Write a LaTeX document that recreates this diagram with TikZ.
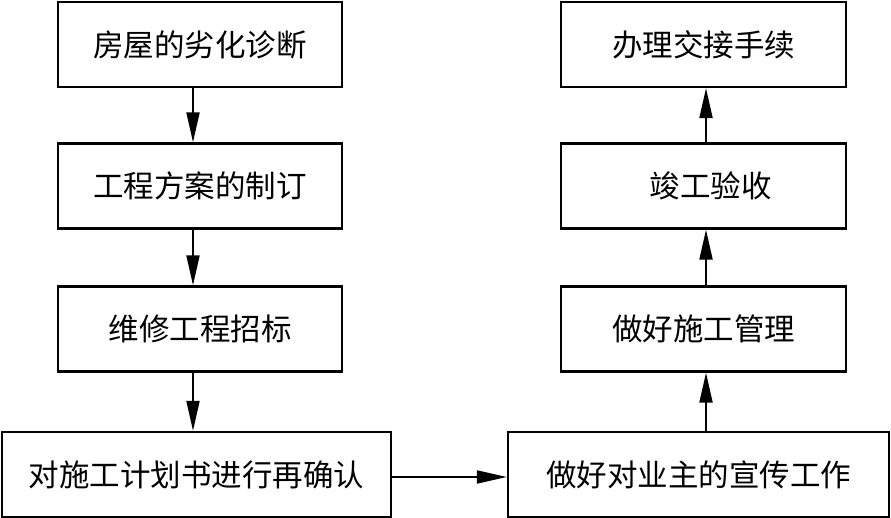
\documentclass[tikz,border=0pt]{standalone}
\usepackage{fontspec}
\newfontfamily\cjk{Noto Sans CJK SC}
\usetikzlibrary{arrows.meta}
\begin{document}
\begin{tikzpicture}[x=1pt,y=1pt,
  box/.style={draw, line width=2.4pt, inner sep=0pt, align=center,
    font=\cjk\fontsize{30.5}{32}\selectfont},
  lbox/.style={box, minimum width=284pt, minimum height=85pt},
  rbox/.style={box, minimum width=285pt, minimum height=85pt},
  arr/.style={line width=2pt, -{Triangle[length=30pt,width=13pt]}}]
\useasboundingbox (0,0) rectangle (891,518);
\node[lbox] (b1) at (200,473.5) {房屋的劣化诊断};
\node[lbox] (b2) at (200,332) {工程方案的制订};
\node[lbox] (b3) at (200,189) {维修工程招标};
\node[box, minimum width=389pt, minimum height=85pt] (b4) at (196.5,43.5) {对施工计划书进行再确认};
\node[box, minimum width=381pt, minimum height=85pt] (b5) at (698.5,43.5) {做好对业主的宣传工作};
\node[rbox] (b6) at (703.5,189) {做好施工管理};
\node[rbox] (b7) at (703.5,332) {\hspace*{14pt}竣工验收};
\node[rbox] (b8) at (703.5,473.5) {办理交接手续};
\draw[arr] ([xshift=-7pt]b1.south) -- ([xshift=-7pt]b2.north);
\draw[arr] ([xshift=-7pt]b2.south) -- ([xshift=-7pt]b3.north);
\draw[arr] ([xshift=-7pt]b3.south) -- ([xshift=-3.5pt]b4.north);
\draw[arr] ([yshift=-2.5pt]b4.east) -- ([yshift=-2.5pt]b5.west);
\draw[arr] ([xshift=7.5pt]b5.north) -- ([xshift=2.5pt]b6.south);
\draw[arr] ([xshift=2.5pt]b6.north) -- ([xshift=2.5pt]b7.south);
\draw[arr] ([xshift=2.5pt]b7.north) -- ([xshift=2.5pt]b8.south);
\end{tikzpicture}
\end{document}
